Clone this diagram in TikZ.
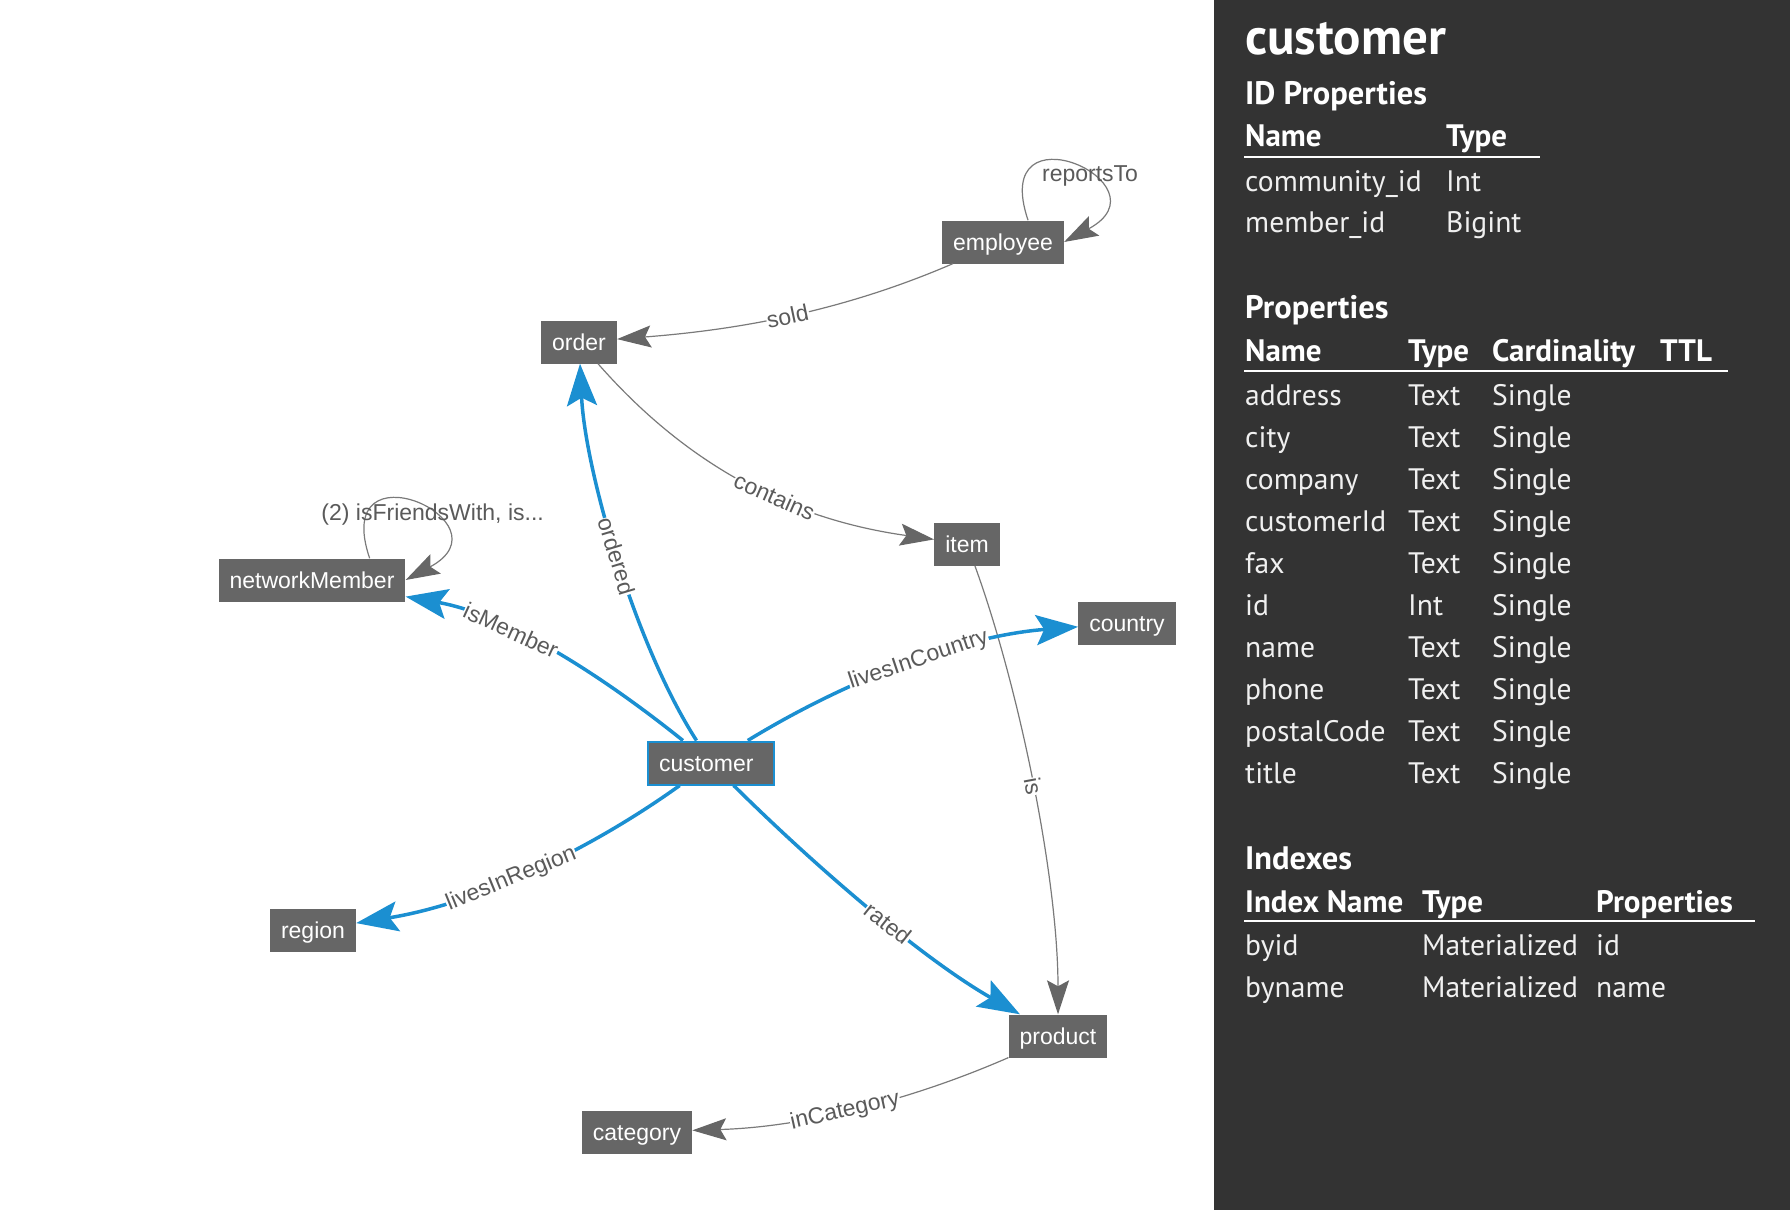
\documentclass[tikz,border=0pt]{standalone}
\usepackage{fontspec}
\setmainfont{Liberation Sans}
\newfontfamily\panelfont{PT Sans}
\usetikzlibrary{arrows.meta}
\definecolor{entgray}{HTML}{666666}
\definecolor{edgegray}{HTML}{7A7A7A}
\definecolor{arrowgray}{HTML}{666666}
\definecolor{labelgray}{HTML}{5A5A5A}
\definecolor{blueedge}{HTML}{1B8FD1}
\definecolor{panelbg}{HTML}{333333}
\begin{document}
\begin{tikzpicture}[x=1pt,y=-1pt,
  ent/.style={fill=entgray, text=white, font=\fontsize{23}{23}\selectfont,
    inner xsep=11pt, inner ysep=0pt, minimum height=43pt, text height=19pt, text depth=2pt},
  gedge/.style={draw=edgegray, line width=1.2pt, -{Stealth[length=34pt,width=22pt,inset=6pt,color=arrowgray]}},
  bedge/.style={draw=blueedge, line width=3.5pt, -{Stealth[length=42pt,width=30pt,inset=8pt]}},
  elabel/.style={font=\fontsize{23}{23}\selectfont, text=labelgray, fill=white, inner sep=0.5pt, sloped},
  looplabel/.style={font=\fontsize{23}{23}\selectfont, text=labelgray, inner sep=0pt},
  ptitle/.style={anchor=base west, inner sep=0pt, text=white, font=\panelfont\bfseries\fontsize{51}{51}\selectfont},
  phead/.style={anchor=base west, inner sep=0pt, text=white, font=\panelfont\bfseries\fontsize{32.5}{32.5}\selectfont},
  pcol/.style={anchor=base west, inner sep=0pt, text=white, font=\panelfont\bfseries\fontsize{31}{31}\selectfont},
  ptxt/.style={anchor=base west, inner sep=0pt, text=white!94!black, font=\panelfont\fontsize{29.6}{29.6}\selectfont},
  pline/.style={draw=white, line width=2pt}
]
\useasboundingbox (0,0) rectangle (1790,1210);
\fill[white] (0,0) rectangle (1214,1210);
\fill[panelbg] (1214,0) rectangle (1790,1210);

% entities
\node[ent] (employee) at (1003,242) {employee};
\node[ent] (order) at (579,342) {order};
\node[ent] (item) at (967,544) {item};
\node[ent] (networkMember) at (312,580) {networkMember};
\node[ent] (country) at (1127,623) {country};
\node[ent, draw=blueedge, line width=2pt, text width=104pt, align=left] (customer) at (711,763) {customer};
\node[ent] (region) at (313,930) {region};
\node[ent] (product) at (1058,1036) {product};
\node[ent] (category) at (637,1132) {category};

% gray edges
\draw[gedge] (employee) .. controls (841,312) and (736,330) .. (order) node[elabel,pos=0.5] (lsold) {sold};
\draw[gedge] (order) .. controls (700,480) and (810,522) .. (item) node[elabel,pos=0.55] (lcontains) {contains};
\draw[gedge] (item) .. controls (1020,690) and (1058,880) .. (product) node[elabel,pos=0.5] (lis) {is};
\draw[gedge] (product) .. controls (909,1101) and (803,1127) .. (category) node[elabel,pos=0.53] (lincat) {inCategory};

% loops
\draw[gedge] ([xshift=-36pt]employee.north east) .. controls +(-40,-118) and +(108,-58) .. (employee.east);
\node[looplabel] (lreports) at ([shift={(26,-66)}]employee.east) {reportsTo};
\draw[gedge] ([xshift=-36pt]networkMember.north east) .. controls +(-40,-118) and +(108,-58) .. (networkMember.east);
\node[looplabel] (lfriends) at ([shift={(27,-65)}]networkMember.east) {(2) isFriendsWith, is...};

% blue edges
\draw[bedge] (customer) .. controls (635,645) and (585,470) .. (order) node[elabel,pos=0.5] (lordered) {ordered};
\draw[bedge] (customer) .. controls (605,678) and (509,615) .. (networkMember) node[elabel,pos=0.65] (lmember) {isMember};
\draw[bedge] (customer) .. controls (845,681) and (960,636) .. (country) node[elabel,pos=0.54] (lcountry) {livesInCountry};
\draw[bedge] (customer) .. controls (587,852) and (475,904) .. (region) node[elabel,pos=0.55] (lregion) {livesInRegion};
\draw[bedge] (customer) .. controls (817,868) and (923,959) .. (product) node[elabel,pos=0.555] (lrated) {rated};

% panel
\node[ptitle] (ttl) at (1245,54) {customer};
\node[phead] (hid) at (1245,104) {ID Properties};
\node[pcol] (idn) at (1245,146) {Name};
\node[pcol] (idt) at (1446,146) {Type};
\draw[pline] (1244,157) -- (1540,157);
\node[ptxt] (r1a) at (1245,191) {community\_id};
\node[ptxt] (r1b) at (1446,191) {Int};
\node[ptxt] (r2a) at (1245,232) {member\_id};
\node[ptxt] (r2b) at (1446,232) {Bigint};

\node[phead] (hprop) at (1245,318) {Properties};
\node[pcol] (pn) at (1245,361) {Name};
\node[pcol] (pt) at (1408,361) {Type};
\node[pcol] (pc) at (1492,361) {Cardinality};
\node[pcol] (pl) at (1660,361) {TTL};
\draw[pline] (1244,371) -- (1728,371);
\foreach \nm/\ty [count=\i from 0] in {address/Text, city/Text, company/Text, customerId/Text, fax/Text, id/Int, name/Text, phone/Text, postalCode/Text, title/Text}{
  \node[ptxt] (pa\i) at (1245,405+42*\i) {\nm};
  \node[ptxt] (pb\i) at (1408,405+42*\i) {\ty};
  \node[ptxt] (pd\i) at (1492,405+42*\i) {Single};
}

\node[phead] (hidx) at (1245,869) {Indexes};
\node[pcol] (xn) at (1245,912) {Index Name};
\node[pcol] (xt) at (1422,912) {Type};
\node[pcol] (xp) at (1596,912) {Properties};
\draw[pline] (1244,921) -- (1755,921);
\node[ptxt] (x1a) at (1245,955) {byid};
\node[ptxt] (x1b) at (1422,955) {Materialized};
\node[ptxt] (x1c) at (1596,955) {id};
\node[ptxt] (x2a) at (1245,997) {byname};
\node[ptxt] (x2b) at (1422,997) {Materialized};
\node[ptxt] (x2c) at (1596,997) {name};
\end{tikzpicture}
\end{document}
